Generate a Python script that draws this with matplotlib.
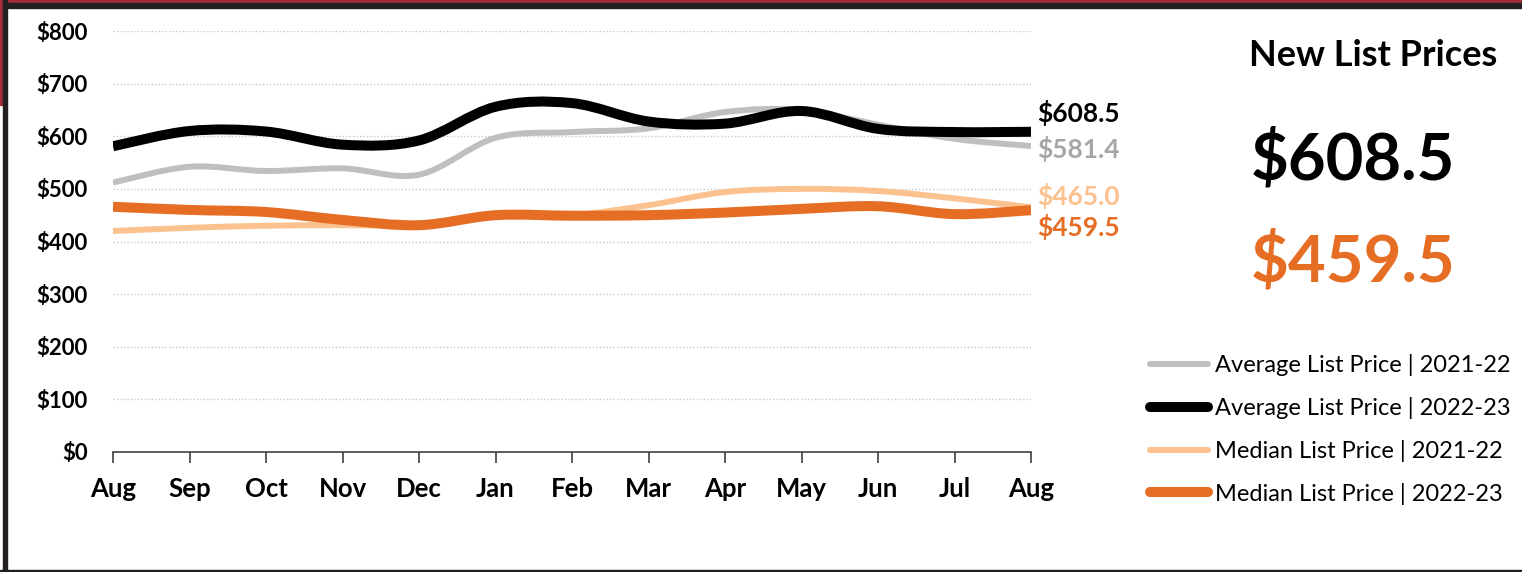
import matplotlib.pyplot as plt
from matplotlib.path import Path
from matplotlib.patches import PathPatch, Rectangle
from matplotlib.lines import Line2D
import numpy as np

plt.rcParams['font.family'] = ['Lato', 'DejaVu Sans']

months = ["Aug", "Sep", "Oct", "Nov", "Dec", "Jan", "Feb", "Mar", "Apr", "May", "Jun", "Jul", "Aug"]
avg_2122 = [512, 542, 534, 539, 527, 597, 608, 615, 646, 650, 622, 595, 581.4]
avg_2223 = [581, 610, 609, 584, 592, 656, 663, 628, 624, 648, 614, 608, 608.5]
med_2122 = [420, 426, 430, 431, 431, 448, 450, 469, 494, 500, 496, 482, 465.0]
med_2223 = [466, 460, 456, 441, 431, 450, 449, 450, 455, 462, 467, 452, 459.5]

series_names = ["Average List Price | 2021-22", "Average List Price | 2022-23",
                "Median List Price | 2021-22", "Median List Price | 2022-23"]
series_vals = [avg_2122, avg_2223, med_2122, med_2223]
colors = ["#bfbfbf", "#000000", "#fbc18f", "#e56d24"]
widths = [4.3, 7.2, 4.3, 7.2]
label_colors = ["#a6a6a6", "#000000", "#fbc18f", "#e56d24"]
end_labels = ["$581.4", "$608.5", "$465.0", "$459.5"]
yticks = [0, 100, 200, 300, 400, 500, 600, 700, 800]


def smooth_path(y):
    # excel style smoothed line -> bezier segments (catmull-rom)
    x = np.arange(len(y), dtype=float)
    y = np.asarray(y, dtype=float)
    pts = np.column_stack([x, y])
    verts = [pts[0]]
    codes = [Path.MOVETO]
    n = len(pts)
    for i in range(n - 1):
        p0 = pts[max(i - 1, 0)]
        p1 = pts[i]
        p2 = pts[i + 1]
        p3 = pts[min(i + 2, n - 1)]
        c1 = p1 + (p2 - p0) / 6.0
        c2 = p2 - (p3 - p1) / 6.0
        verts += [c1, c2, p2]
        codes += [Path.CURVE4] * 3
    return Path(verts, codes)


fig = plt.figure(figsize=(15.22, 5.72), dpi=100)
ax = fig.add_axes([113 / 1522, 120 / 572, 918 / 1522, 421 / 572])

for vals, c, lw in zip(series_vals, colors, widths):
    ax.add_patch(PathPatch(smooth_path(vals), fill=False, edgecolor=c, lw=lw,
                           capstyle='butt', joinstyle='round', zorder=3))

ax.set_xlim(0, len(months) - 1)
ax.set_ylim(0, 800)
ax.set_yticks(yticks)
ax.set_yticklabels(["$" + str(v) for v in yticks], fontsize=16, fontweight='bold')
ax.set_xticks(range(len(months)))
ax.set_xticklabels(months, fontsize=18.5, fontweight='bold')
ax.tick_params(axis='y', length=0, pad=18)
ax.tick_params(axis='x', length=8, width=1.2, color='#404040', pad=10, direction='out')
for yv in yticks[1:]:
    ax.axhline(yv, color='#c8c8c8', lw=1, ls=(0, (1, 1.5)), zorder=1)
for s in ['top', 'right', 'left']:
    ax.spines[s].set_visible(False)
ax.spines['bottom'].set_color('#404040')
ax.spines['bottom'].set_linewidth(1.2)

# end of line labels
label_off = [-5, 36, 22, -31]
for lbl, c, vals, off in zip(end_labels, label_colors, series_vals, label_off):
    ax.text(len(months) - 1 + 0.08, vals[-1] + off, lbl, color=c, fontsize=19, fontweight='bold',
            va='center', ha='left', clip_on=False)

# right panel
fig.text(1373 / 1522, 1 - 55 / 572, "New List Prices", fontsize=26, fontweight='bold',
         ha='center', va='center')
fig.text(1353 / 1522, 1 - 160 / 572, end_labels[1], fontsize=47, fontweight='bold',
         ha='center', va='center', color='#000000')
fig.text(1353 / 1522, 1 - 262 / 572, end_labels[3], fontsize=47, fontweight='bold',
         ha='center', va='center', color=colors[3])

handles = [Line2D([], [], color=c, lw=lw, solid_capstyle='round') for c, lw in zip(colors, widths)]
fig.legend(handles, series_names, loc='center left', bbox_to_anchor=(1150 / 1522, 1 - 429.5 / 572),
           frameon=False, fontsize=17, borderpad=0, borderaxespad=0, handlelength=2.45,
           handletextpad=0.3, labelspacing=0.88)

# frame around the slide
fig.patches.append(Rectangle((0, 1 - 3 / 572), 1, 3 / 572, transform=fig.transFigure,
                             color='#a52a3a', zorder=10))
fig.patches.append(Rectangle((0, 1 - 105 / 572), 3 / 1522, 105 / 572, transform=fig.transFigure,
                             color='#a52a3a', zorder=10))
fig.patches.append(Rectangle((3 / 1522, 1 - 8 / 572), 1, 5 / 572, transform=fig.transFigure,
                             color='#231f20', zorder=10))
fig.patches.append(Rectangle((3 / 1522, 0), 4 / 1522, 1, transform=fig.transFigure,
                             color='#231f20', zorder=10))
fig.patches.append(Rectangle((0, 0), 1, 2 / 572, transform=fig.transFigure,
                             color='#231f20', zorder=10))

fig.savefig("out.png", dpi=100)
